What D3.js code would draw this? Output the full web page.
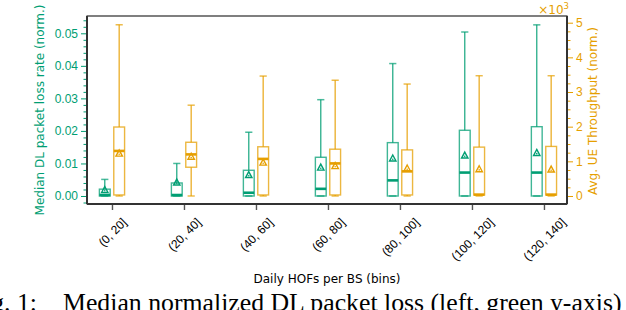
<!DOCTYPE html>
<html>
<head>
<meta charset="utf-8">
<script src="https://cdn.jsdelivr.net/npm/d3@7"></script>
<style>
  body { margin: 0; background: #fff; }
  svg { display: block; }
</style>
</head>
<body>
<div id="chart"></div>
<script>
const bins = ['(0, 20]', '(20, 40]', '(40, 60]', '(60, 80]', '(80, 100]', '(100, 120]', '(120, 140]'];

// left series: median DL packet loss rate (norm.)
const lossLow = [0, 0, 0, 0, 0, 0, 0];
const lossQ1 = [0, 0, 0, 0, 0, 0, 0];
const lossMed = [0.0003, 0.0003, 0.0010, 0.0022, 0.0048, 0.0072, 0.0072];
const lossQ3 = [0.0021, 0.0040, 0.0079, 0.0119, 0.0164, 0.0202, 0.0213];
const lossHigh = [0.0051, 0.0100, 0.0196, 0.0296, 0.0407, 0.0504, 0.0526];
const lossMean = [0.0018, 0.0041, 0.0064, 0.0087, 0.0115, 0.0124, 0.0132];

// right series: avg UE throughput (norm., x10^3)
const thrLow = [0, 0, 0, 0, 0, 0, 0];
const thrQ1 = [0.03, 0.83, 0.03, 0.03, 0.03, 0.03, 0.03];
const thrMed = [1.30, 1.20, 1.07, 0.94, 0.71, 0.04, 0.04];
const thrQ3 = [1.99, 1.55, 1.42, 1.35, 1.33, 1.41, 1.43];
const thrHigh = [4.94, 2.62, 3.46, 3.34, 3.23, 3.47, 3.47];
const thrMean = [1.22, 1.13, 0.96, 0.86, 0.79, 0.77, 0.76];

const lossTicks = [0, 0.01, 0.02, 0.03, 0.04, 0.05];
const thrTicks = [0, 1, 2, 3, 4, 5];

const green = '#009E73';
const orange = '#E69F00';
const W = 626, H = 310;
const plotL = 87, plotR = 567, plotT = 16, plotB = 204;

const svg = d3.select('#chart').append('svg')
  .attr('width', W).attr('height', H)
  .style('font-family', '"DejaVu Sans", sans-serif');

const x = d3.scaleLinear().domain([-0.347, 6.32]).range([plotL, plotR]);
const yL = d3.scaleLinear().domain([-0.00246, 0.05532]).range([plotB, plotT]);
const yR = d3.scaleLinear().domain([-0.231, 5.193]).range([plotB, plotT]);

const boxW = 0.15, capW = 0.1, off = 0.1;

const makeRows = (lo, q1, med, q3, hi, mean) =>
  bins.map((b, i) => ({ i, lo: lo[i], q1: q1[i], med: med[i], q3: q3[i], hi: hi[i], mean: mean[i] }));

const drawBoxes = (rows, y, dx, color) => {
  const g = svg.append('g');
  const grp = g.selectAll('g').data(rows).enter().append('g');
  const cx = (d) => x(d.i + dx);
  const px = (d, k) => x(d.i + dx + k);

  // whiskers
  grp.append('line')
    .attr('x1', cx).attr('x2', cx)
    .attr('y1', (d) => y(d.q3)).attr('y2', (d) => y(d.hi))
    .attr('stroke', color).attr('stroke-width', 1.3).attr('stroke-opacity', 0.85);
  grp.append('line')
    .attr('x1', cx).attr('x2', cx)
    .attr('y1', (d) => y(d.q1)).attr('y2', (d) => y(d.lo))
    .attr('stroke', color).attr('stroke-width', 1.3).attr('stroke-opacity', 0.85);
  // caps
  ['hi', 'lo'].forEach((k) => {
    grp.append('line')
      .attr('x1', (d) => px(d, -capW / 2)).attr('x2', (d) => px(d, capW / 2))
      .attr('y1', (d) => y(d[k])).attr('y2', (d) => y(d[k]))
      .attr('stroke', color).attr('stroke-width', 1.5).attr('stroke-opacity', 0.7);
  });
  // box
  grp.append('rect')
    .attr('x', (d) => px(d, -boxW / 2))
    .attr('width', x(boxW) - x(0))
    .attr('y', (d) => y(d.q3))
    .attr('height', (d) => Math.max(0.5, y(d.q1) - y(d.q3)))
    .attr('fill', 'none')
    .attr('stroke', color).attr('stroke-width', 1.4).attr('stroke-opacity', 0.75);
  // median
  grp.append('line')
    .attr('x1', (d) => px(d, -boxW / 2)).attr('x2', (d) => px(d, boxW / 2))
    .attr('y1', (d) => y(d.med)).attr('y2', (d) => y(d.med))
    .attr('stroke', color).attr('stroke-width', 2.6);
  // mean marker (open triangle)
  grp.append('path')
    .attr('d', (d) => {
      const mx = cx(d), my = y(d.mean);
      return `M${mx},${my - 3.6} L${mx + 3.2},${my + 2.4} L${mx - 3.2},${my + 2.4} Z`;
    })
    .attr('fill', 'none')
    .attr('stroke', color).attr('stroke-width', 1.4);
  grp.append('circle')
    .attr('cx', cx).attr('cy', (d) => y(d.mean) + 0.6).attr('r', 0.8)
    .attr('fill', color);
};

drawBoxes(makeRows(lossLow, lossQ1, lossMed, lossQ3, lossHigh, lossMean), yL, -off, green);
drawBoxes(makeRows(thrLow, thrQ1, thrMed, thrQ3, thrHigh, thrMean), yR, off, orange);

// frame
svg.append('rect')
  .attr('x', plotL).attr('y', plotT).attr('width', plotR - plotL).attr('height', plotB - plotT)
  .attr('fill', 'none').attr('stroke', '#000').attr('stroke-width', 1);
[[plotL, plotT, plotL, plotB], [plotR, plotT, plotR, plotB], [plotL, plotB, plotR, plotB]].forEach((s) => {
  svg.append('line')
    .attr('x1', s[0]).attr('y1', s[1]).attr('x2', s[2]).attr('y2', s[3])
    .attr('stroke', '#333').attr('stroke-width', 2);
});

// left axis
const axL = svg.append('g').attr('transform', `translate(${plotL - 1},0)`)
  .call(d3.axisLeft(yL).tickValues(lossTicks).tickFormat(d3.format('.2f')).tickSize(5).tickPadding(3));
const axLm = svg.append('g').attr('transform', `translate(${plotL - 1},0)`)
  .call(d3.axisLeft(yL).tickValues(d3.range(-1, 28).map((k) => k * 0.002).filter((v) => Math.round(v * 1000) % 10 !== 0 && v > -0.00246))
    .tickFormat('').tickSize(2.5));
[axL, axLm].forEach((a) => {
  a.select('.domain').remove();
  a.selectAll('line').attr('stroke', green).attr('stroke-width', 1);
});
axL.selectAll('text').attr('fill', green).style('font-size', '12px');

// right axis
const axR = svg.append('g').attr('transform', `translate(${plotR + 1},0)`)
  .call(d3.axisRight(yR).tickValues(thrTicks).tickFormat(d3.format('d')).tickSize(5).tickPadding(3));
const axRm = svg.append('g').attr('transform', `translate(${plotR + 1},0)`)
  .call(d3.axisRight(yR).tickValues(d3.range(0, 21).map((k) => k * 0.25).filter((v) => v % 1 !== 0))
    .tickFormat('').tickSize(2.5));
[axR, axRm].forEach((a) => {
  a.select('.domain').remove();
  a.selectAll('line').attr('stroke', orange).attr('stroke-width', 1);
});
axR.selectAll('text').attr('fill', orange).style('font-size', '12px');

// x axis
const axB = svg.append('g').attr('transform', `translate(0,${plotB + 1})`)
  .call(d3.axisBottom(x).tickValues(d3.range(bins.length)).tickFormat((i) => bins[i]).tickSize(5));
axB.select('.domain').remove();
axB.selectAll('line').attr('stroke', '#555').attr('stroke-width', 1.4);
axB.selectAll('text').each(function (i) {
  const t = d3.select(this).style('font-size', '12px').attr('fill', '#000');
  const w = this.getComputedTextLength();
  const h = 12;
  const yc = 11 + (w + h) / (2 * Math.SQRT2);
  t.attr('y', 0).attr('dy', '0.35em').attr('text-anchor', 'middle')
    .attr('transform', `translate(0,${yc}) rotate(-45)`);
});

// axis labels
svg.append('text')
  .attr('transform', `translate(40,${(plotT + plotB) / 2}) rotate(-90)`)
  .attr('text-anchor', 'middle').attr('dy', '0.35em')
  .attr('fill', green).style('font-size', '12px')
  .text('Median DL packet loss rate (norm.)');
svg.append('text')
  .attr('transform', `translate(593,${(plotT + plotB) / 2 + 1}) rotate(-90)`)
  .attr('text-anchor', 'middle').attr('dy', '0.35em')
  .attr('fill', orange).style('font-size', '12px')
  .text('Avg. UE Throughput (norm.)');
const mult = svg.append('text')
  .attr('x', 569).attr('y', 14)
  .attr('text-anchor', 'end')
  .attr('fill', orange).style('font-size', '12px');
mult.append('tspan').text('×10');
mult.append('tspan').attr('dy', -5).style('font-size', '8.5px').text('3');

svg.append('text')
  .attr('x', (plotL + plotR) / 2).attr('y', 283)
  .attr('text-anchor', 'middle').attr('fill', '#000').style('font-size', '12px')
  .text('Daily HOFs per BS (bins)');

// figure caption, cut by the page edge like the source crop (justified spacing)
const serif = '"Liberation Serif", "Times New Roman", serif';
const capMain = svg.append('text')
  .attr('x', 63).attr('y', 311)
  .attr('fill', '#000')
  .style('font-family', serif).style('font-size', '23px')
  .text('Median normalized DL packet loss (left, green y-axis)');
const capSize = 23 * 559 / capMain.node().getComputedTextLength();
capMain.style('font-size', capSize + 'px');
svg.append('text')
  .attr('x', 37).attr('y', 311)
  .attr('text-anchor', 'end').attr('fill', '#000')
  .style('font-family', serif).style('font-size', capSize + 'px')
  .text('Fig. 1:');
</script>
</body>
</html>
